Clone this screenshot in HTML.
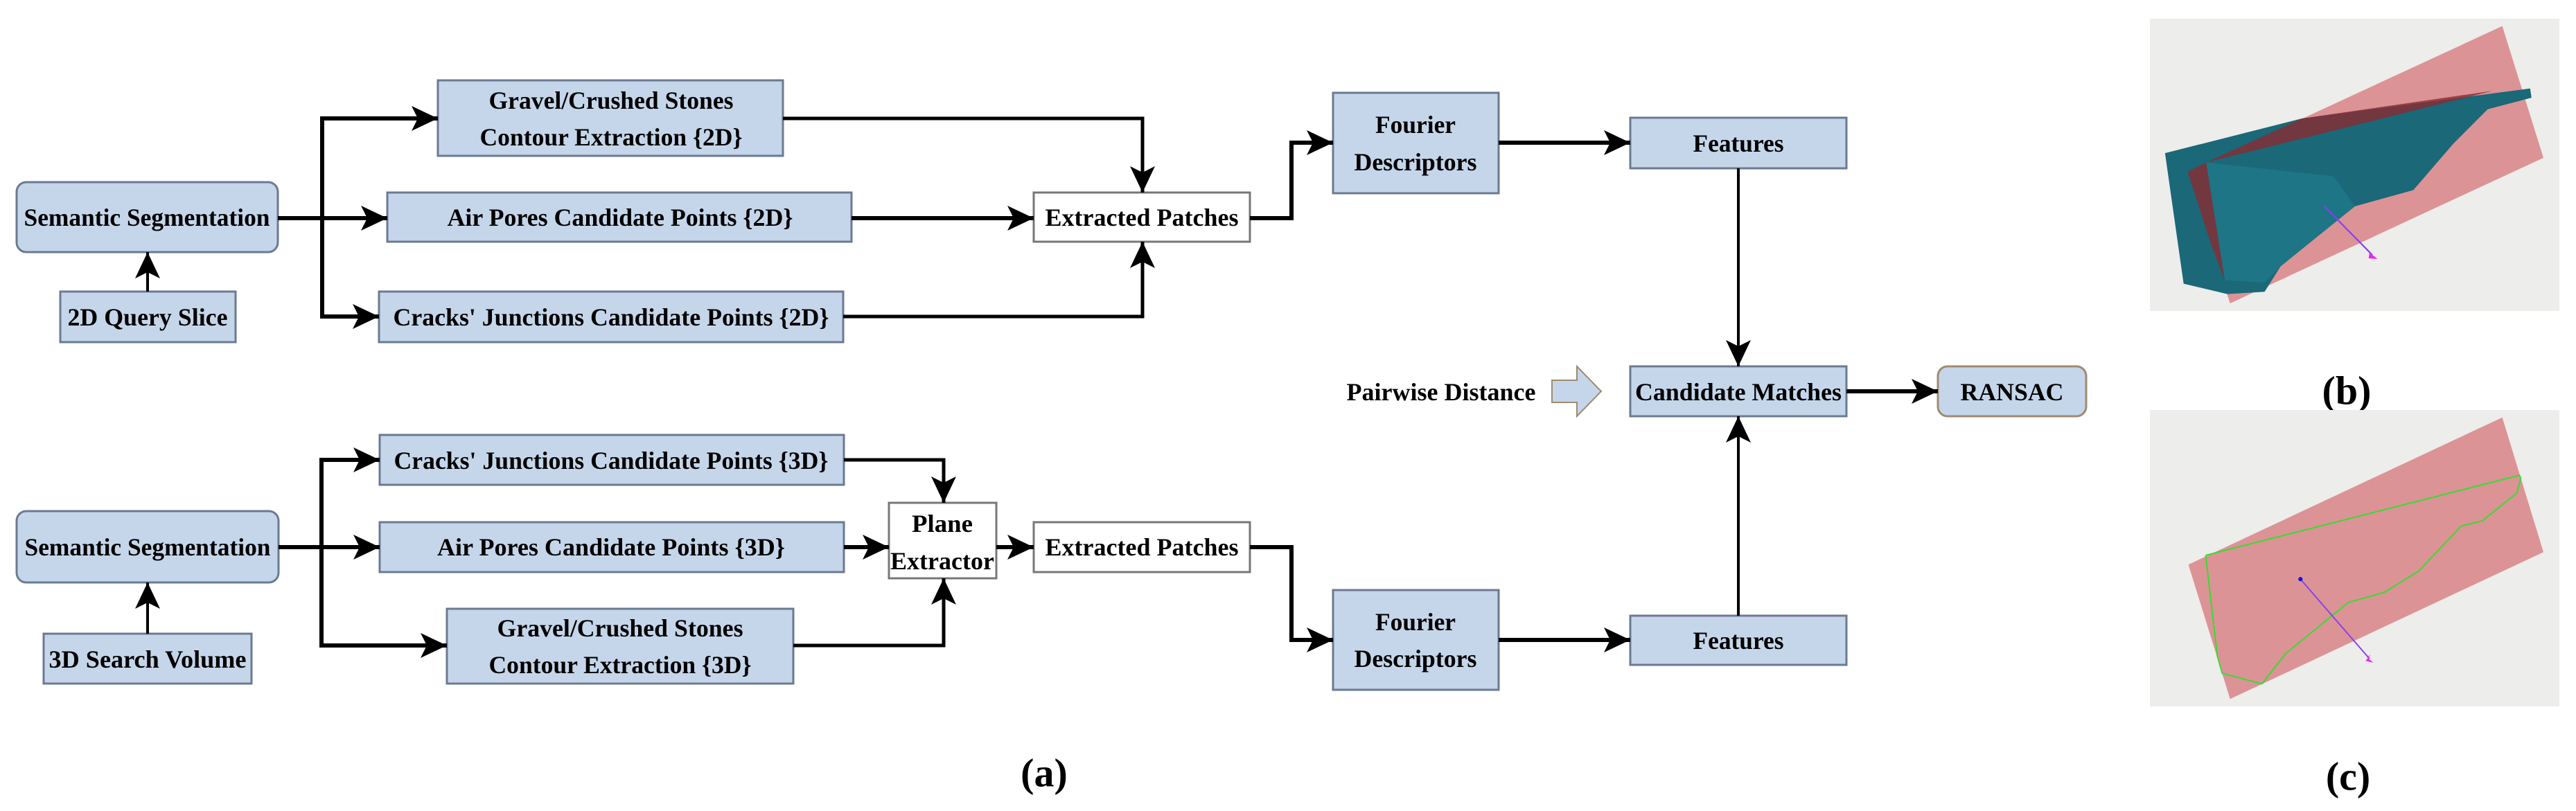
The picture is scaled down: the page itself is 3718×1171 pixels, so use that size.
<!DOCTYPE html>
<html><head><meta charset="utf-8"><style>
html,body{margin:0;padding:0;background:#fff;}
svg{display:block;}
text{font-family:"Liberation Serif",serif;font-weight:bold;fill:#000;}
</style></head><body>
<svg width="3718" height="1171" viewBox="0 0 3718 1171" xmlns="http://www.w3.org/2000/svg">
<defs>
<marker id="ar" markerWidth="40" markerHeight="36" refX="38" refY="18" orient="auto" markerUnits="userSpaceOnUse">
<path d="M0,0 L38,18 L0,36 L9,18 Z" fill="#000"/>
</marker>
</defs>
<g fill="#c5d6ea" stroke="#6b7a90" stroke-width="3">
<!-- top row -->
<rect x="24" y="263" width="377" height="101" rx="14"/>
<rect x="87" y="421" width="253" height="73"/>
<rect x="632" y="116" width="498" height="109"/>
<rect x="559" y="278" width="670" height="71"/>
<rect x="547" y="421" width="670" height="73"/>
<rect x="1924" y="134" width="239" height="145"/>
<rect x="2353" y="170" width="312" height="73"/>
<rect x="2353" y="529" width="312" height="72"/>
<rect x="2797" y="529" width="214" height="72" rx="14" stroke="#a08a70"/>
<!-- bottom row -->
<rect x="24" y="738" width="378" height="103" rx="14"/>
<rect x="63" y="915" width="300" height="72"/>
<rect x="548" y="628" width="670" height="72"/>
<rect x="548" y="754" width="670" height="72"/>
<rect x="645" y="879" width="500" height="108"/>
<rect x="1924" y="852" width="239" height="144"/>
<rect x="2353" y="889" width="312" height="71"/>
</g>
<g fill="#fff" stroke="#777" stroke-width="3">
<rect x="1492" y="278" width="312" height="71"/>
<rect x="1283" y="726" width="155" height="109"/>
<rect x="1492" y="754" width="312" height="72"/>
</g>
<!-- block arrow -->
<path d="M2240,549 L2276,549 L2276,529 L2311,565 L2276,601 L2276,581 L2240,581 Z" fill="#c5d6ea" stroke="#a08a70" stroke-width="2"/>

<g fill="none" stroke="#000" stroke-width="6" marker-end="url(#ar)">
<!-- top -->
<path d="M401,315 L559,315"/>
<path d="M465,315 L465,171 L632,171"/>
<path d="M465,315 L465,457 L547,457"/>
<path d="M213,421 L213,364" stroke-width="4"/>
<path d="M1130,171 L1649,171 L1649,278" stroke-width="5"/>
<path d="M1229,315 L1492,315"/>
<path d="M1217,457 L1649,457 L1649,349" stroke-width="5"/>
<path d="M1804,315 L1864,315 L1864,206 L1924,206"/>
<path d="M2163,206 L2353,206"/>
<path d="M2509,243 L2509,529" stroke-width="4"/>
<path d="M2665,565 L2797,565"/>
<path d="M2509,889 L2509,601" stroke-width="4"/>
<!-- bottom -->
<path d="M402,790 L548,790"/>
<path d="M464,790 L464,664 L548,664"/>
<path d="M464,790 L464,932 L645,932"/>
<path d="M213,915 L213,841" stroke-width="4"/>
<path d="M1218,664 L1362,664 L1362,726" stroke-width="5"/>
<path d="M1218,790 L1283,790"/>
<path d="M1145,932 L1362,932 L1362,835" stroke-width="5"/>
<path d="M1438,790 L1492,790"/>
<path d="M1804,790 L1864,790 L1864,924 L1924,924"/>
<path d="M2163,924 L2353,924"/>
</g>

<g font-size="36" text-anchor="middle" dominant-baseline="central" lengthAdjust="spacingAndGlyphs">
<text x="212" y="314" textLength="355" lengthAdjust="spacingAndGlyphs">Semantic Segmentation</text>
<text x="213" y="458" textLength="231" lengthAdjust="spacingAndGlyphs">2D Query Slice</text>
<text x="882" y="145" textLength="353" lengthAdjust="spacingAndGlyphs">Gravel/Crushed Stones</text>
<text x="882" y="198" textLength="379" lengthAdjust="spacingAndGlyphs">Contour Extraction {2D}</text>
<text x="895" y="314" textLength="499" lengthAdjust="spacingAndGlyphs">Air Pores Candidate Points {2D}</text>
<text x="882" y="458" textLength="629" lengthAdjust="spacingAndGlyphs">Cracks' Junctions Candidate Points {2D}</text>
<text x="1648" y="314" textLength="279" lengthAdjust="spacingAndGlyphs">Extracted Patches</text>
<text x="2043" y="180" textLength="116" lengthAdjust="spacingAndGlyphs">Fourier</text>
<text x="2043" y="234" textLength="177" lengthAdjust="spacingAndGlyphs">Descriptors</text>
<text x="2509" y="207" textLength="131" lengthAdjust="spacingAndGlyphs">Features</text>
<text x="2509" y="566" textLength="298" lengthAdjust="spacingAndGlyphs">Candidate Matches</text>
<text x="2080" y="566" textLength="273" lengthAdjust="spacingAndGlyphs">Pairwise Distance</text>
<text x="2904" y="566" textLength="149" lengthAdjust="spacingAndGlyphs">RANSAC</text>

<text x="213" y="790" textLength="355" lengthAdjust="spacingAndGlyphs">Semantic Segmentation</text>
<text x="213" y="952" textLength="285" lengthAdjust="spacingAndGlyphs">3D Search Volume</text>
<text x="882" y="665" textLength="627" lengthAdjust="spacingAndGlyphs">Cracks' Junctions Candidate Points {3D}</text>
<text x="882" y="790" textLength="502" lengthAdjust="spacingAndGlyphs">Air Pores Candidate Points {3D}</text>
<text x="895" y="907" textLength="355" lengthAdjust="spacingAndGlyphs">Gravel/Crushed Stones</text>
<text x="895" y="960" textLength="379" lengthAdjust="spacingAndGlyphs">Contour Extraction {3D}</text>
<text x="1360" y="756" textLength="88" lengthAdjust="spacingAndGlyphs">Plane</text>
<text x="1360" y="810" textLength="150" lengthAdjust="spacingAndGlyphs">Extractor</text>
<text x="1648" y="790" textLength="279" lengthAdjust="spacingAndGlyphs">Extracted Patches</text>
<text x="2043" y="898" textLength="116" lengthAdjust="spacingAndGlyphs">Fourier</text>
<text x="2043" y="951" textLength="177" lengthAdjust="spacingAndGlyphs">Descriptors</text>
<text x="2509" y="925" textLength="131" lengthAdjust="spacingAndGlyphs">Features</text>
</g>

<g font-size="58" text-anchor="middle" dominant-baseline="central">
<text x="1507" y="1116">(a)</text>
<text x="3387" y="564">(b)</text>
<text x="3389" y="1121">(c)</text>
</g>

<!-- image b -->
<svg x="3103" y="27" width="591" height="422" viewBox="8 18 1542 1265" preserveAspectRatio="none">
<rect x="8" y="18" width="1542" height="1265" fill="#ededeb"/>
<polygon points="1335,50 1490,620 310,1250 150,680" fill="#d88386" opacity="0.85"/>
<polygon points="65,600 580,450 1440,320 1445,360 1280,410 1150,560 1000,760 780,830 500,1090 440,1200 300,1210 135,1165" fill="#1a6878"/>
<polygon points="580,450 1300,330 220,640" fill="#8a2a32" opacity="0.8"/>
<polygon points="150,680 220,640 290,1150 240,1000" fill="#8a2a32" opacity="0.8"/>
<polygon points="220,640 700,700 780,830 500,1090 440,1160 290,1150" fill="#1d7585"/>
<line x1="665" y1="830" x2="845" y2="1040" stroke="#8a3cf0" stroke-width="6"/>
<polygon points="835,1030 865,1058 832,1055" fill="#ee22ee"/>
</svg>

<!-- image c -->
<svg x="3103" y="592" width="591" height="428" viewBox="8 32 1542 1118" preserveAspectRatio="none">
<rect x="8" y="32" width="1542" height="1118" fill="#ededeb"/>
<polygon points="1335,60 1490,568 310,1122 153,615" fill="#d88386" opacity="0.85"/>
<polyline points="218,580 1400,278 1405,290 1390,345 1260,450 1180,470 1020,640 890,720 755,758 520,950 430,1065 280,1025 262,960 218,580" fill="none" stroke="#2fe02f" stroke-width="5"/>
<line x1="575" y1="670" x2="835" y2="970" stroke="#8a3cf0" stroke-width="5"/>
<circle cx="575" cy="670" r="8" fill="#1010e0"/>
<polygon points="825,965 850,985 820,978 840,955" fill="#ee22ee"/>
</svg>
</svg>
</body></html>
